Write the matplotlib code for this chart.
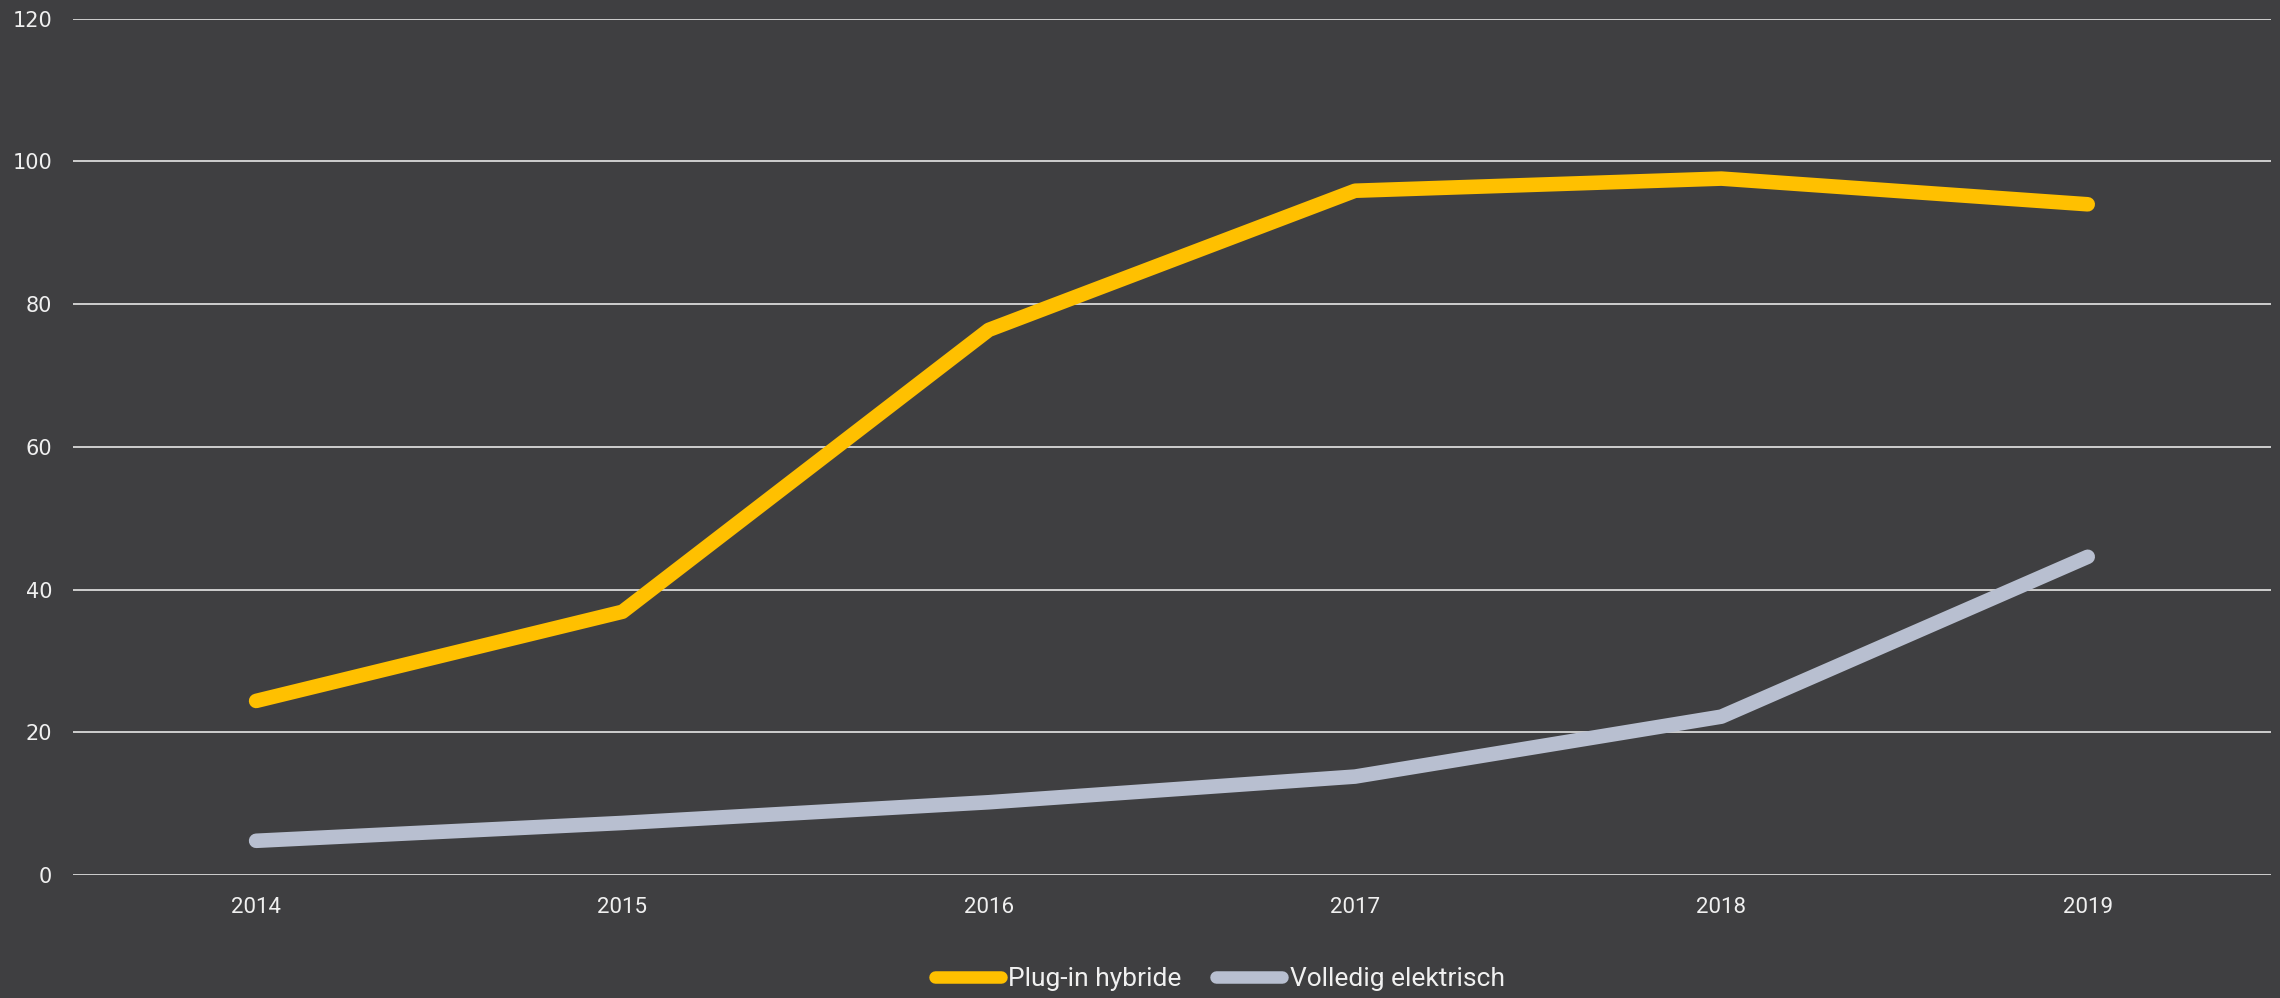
import matplotlib
matplotlib.use("Agg")
import matplotlib.pyplot as plt

# data
years = ['2014', '2015', '2016', '2017', '2018', '2019']
plugin_hybride = [24.4, 36.9, 76.4, 95.9, 97.6, 94.0]
volledig_elektrisch = [4.8, 7.3, 10.2, 13.8, 22.2, 44.6]
series_names = ['Plug-in hybride', 'Volledig elektrisch']
y_ticks = [0, 20, 40, 60, 80, 100, 120]

bg = '#3f3f41'
colors = ['#ffc000', '#b8bfd0']

fig = plt.figure(figsize=(22.8, 9.98), dpi=100, facecolor=bg)
ax = fig.add_axes([0.032, 0.1232, 0.964, 0.858], facecolor=bg)

x = list(range(len(years)))
for vals, name, c in zip([plugin_hybride, volledig_elektrisch], series_names, colors):
    ax.plot(x, vals, color=c, lw=10.5, solid_capstyle='round',
            solid_joinstyle='round', label=name, zorder=3)

ax.set_xlim(-0.5, len(years) - 0.5)
ax.set_ylim(0, 120)
ax.set_yticks(y_ticks)
ax.set_xticks(x)
ax.set_xticklabels(years)
ax.grid(axis='y', color='#e6e6e6', lw=1.2, zorder=1)
ax.grid(axis='x', visible=False)
for s in ax.spines.values():
    s.set_visible(False)
ax.tick_params(axis='both', length=0, colors='#f0f0f0')
ax.tick_params(axis='y', pad=15, labelsize=15)
ax.tick_params(axis='x', pad=16, labelsize=16)
for lab in ax.get_xticklabels():
    lab.set_family('Roboto')
for lab in ax.get_yticklabels():
    lab.set_family('DejaVu Sans')

leg = fig.legend(loc='center', bbox_to_anchor=(0.535, 0.019), ncol=2,
                 frameon=False, handlelength=2.5, handletextpad=0.3,
                 columnspacing=1.3, prop={'family': 'Roboto', 'size': 19})
for t in leg.get_texts():
    t.set_color('#f0f0f0')
for h in leg.get_lines():
    h.set_linewidth(9)
    h.set_solid_capstyle('round')

fig.savefig('out.png', dpi=100, facecolor=bg)
